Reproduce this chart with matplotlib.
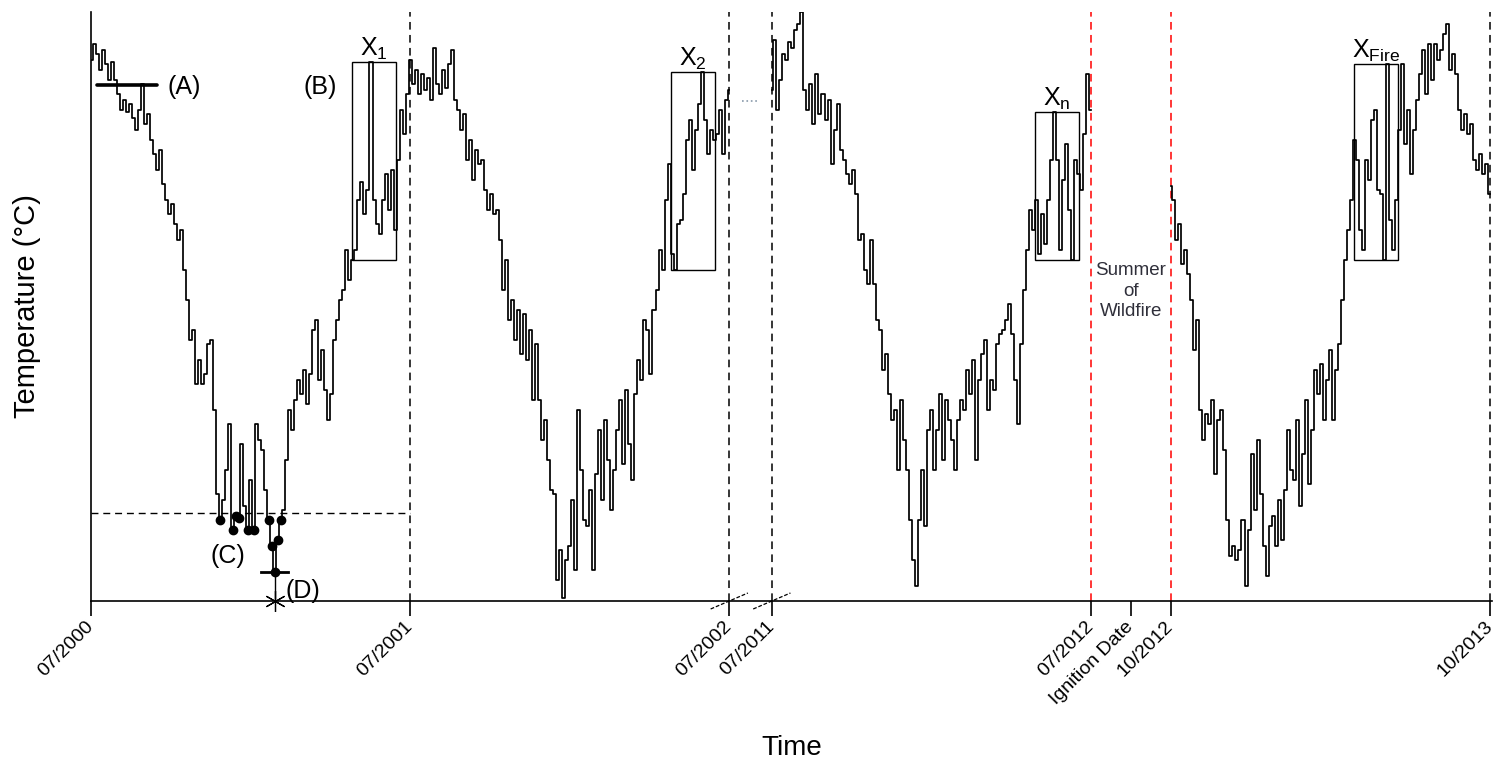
"""
Temperature series schematic with summer windows X1..Xn, XFire.
"""

import numpy as np
import matplotlib.pyplot as plt
from matplotlib.patches import Rectangle

plt.rcParams['font.family'] = ['Liberation Sans', 'DejaVu Sans']
plt.rcParams['mathtext.default'] = 'regular'

# x axis in months since 07/2000, with the 07/2002 - 07/2011 gap cut out
tick_pos = [0, 12, 24, 25.6, 37.6, 39.1, 40.6, 52.6]
tick_labels = ['07/2000', '07/2001', '07/2002', '07/2011', '07/2012',
               'Ignition Date', '10/2012', '10/2013']

# start / end (months) of each plotted year of data
seg_start = [0, 12, 25.6, 40.6]
seg_end = [12, 24, 37.6, 52.6]

temp_2000 = [
    22.0, 22.8, 22.3, 21.5, 22.5, 21.8, 21.0, 21.9, 21.0, 20.3,
    19.5, 20.0, 19.4, 19.8, 19.1, 18.5, 19.5, 20.8, 18.8, 19.3,
    18.0, 17.3, 16.5, 17.5, 15.8, 15.0, 14.3, 14.8, 13.8, 13.0,
    13.5, 11.5, 10.0, 8.0, 8.5, 5.8, 7.0, 5.8, 6.3, 7.8,
    8.0, 4.5, 0.3, -1.0, 0.0, 1.5, 3.8, -1.5, -0.8, -0.9,
    2.8, -0.3, -1.5, 1.0, -1.5, 3.8, 3.0, 2.5, 0.5, -1.0,
    -2.3, -3.6, -2.0, -1.0, -0.5, 2.0, 4.5, 3.5, 5.0, 6.0,
    5.3, 6.5, 4.8, 6.3, 8.5, 9.0, 6.0, 7.5, 5.5, 4.0,
    5.3, 8.0, 9.0, 10.0, 10.5, 12.5, 11.0, 12.0, 12.5, 15.0,
    15.9, 14.3, 15.5, 21.9, 15.0, 13.8, 13.3, 15.0, 16.3, 14.5,
    16.5, 13.5, 17.0, 19.5, 18.3, 20.3, 22.0]

temp_2001 = [
    22.0, 20.8, 21.5, 20.3, 21.3, 20.5, 21.1, 20.0, 22.6, 20.8,
    20.3, 21.5, 20.6, 21.8, 22.5, 20.0, 19.5, 18.5, 19.3, 17.0,
    18.0, 16.0, 17.5, 16.8, 17.0, 15.5, 14.5, 15.3, 14.3, 14.5,
    13.0, 10.5, 12.0, 9.0, 10.0, 8.0, 9.5, 7.3, 9.3, 7.0,
    8.5, 5.0, 7.8, 5.0, 3.0, 4.0, 2.0, 0.5, 0.3, -4.0,
    -2.5, -4.9, -3.0, -2.3, 0.0, -3.5, 4.5, 1.5, -1.0, -1.3,
    0.5, -3.5, 1.3, 3.5, 0.0, 4.0, 2.0, -0.5, 1.5, 3.5,
    5.0, 1.8, 5.5, 2.8, 1.0, 5.3, 7.0, 6.0, 9.0, 8.5,
    6.3, 9.5, 10.5, 12.5, 11.5, 15.0, 16.8, 12.3, 11.5, 13.8,
    14.0, 15.3, 18.0, 19.0, 16.5, 18.5, 19.8, 21.4, 19.0, 17.3,
    18.5, 18.0, 18.3, 19.5, 17.3, 20.0, 20.5]

temp_2011 = [
    20.5, 23.0, 19.5, 21.0, 22.3, 22.0, 22.9, 22.6, 23.5, 23.8,
    24.4, 20.5, 19.5, 20.8, 18.8, 21.3, 19.3, 20.3, 19.0, 20.0,
    16.8, 18.5, 19.8, 17.5, 17.0, 16.3, 15.8, 16.5, 15.3, 13.0,
    13.3, 11.5, 10.8, 13.0, 10.8, 9.0, 8.5, 6.5, 7.3, 5.3,
    4.0, 4.5, 1.5, 5.0, 3.0, 1.5, -1.0, -3.0, -4.3, -1.0,
    1.5, -1.3, 3.5, 4.5, 1.5, 3.5, 5.3, 2.0, 5.0, 4.0,
    3.0, 1.5, 4.0, 5.0, 4.5, 6.5, 5.3, 7.0, 2.0, 6.0,
    7.3, 8.0, 4.5, 6.0, 5.5, 7.8, 8.3, 8.5, 9.0, 9.8,
    8.3, 6.0, 3.8, 7.8, 10.5, 12.5, 14.5, 13.5, 15.0, 12.3,
    14.3, 12.8, 15.0, 17.0, 19.4, 17.0, 12.5, 16.0, 17.8, 14.5,
    12.0, 17.0, 16.3, 15.5, 18.3, 21.3, 19.5]

temp_2012 = [
    15.7, 15.0, 13.0, 13.8, 11.8, 12.5, 11.3, 10.0, 7.5, 9.0,
    4.5, 3.0, 4.3, 3.8, 5.0, 1.3, 4.0, 4.5, 2.5, -1.0,
    -2.8, -2.3, -3.0, -2.5, -1.0, -4.3, -1.5, 2.3, -0.5, 3.0,
    0.3, -2.3, -3.8, -1.3, -0.8, -2.3, 0.0, -2.0, 0.5, 3.5,
    1.5, 1.0, 4.0, -0.3, 2.3, 5.0, 0.8, 3.5, 6.5, 5.3,
    6.8, 4.0, 6.0, 7.5, 4.0, 6.5, 7.8, 10.0, 12.0, 13.5,
    15.0, 18.0, 17.0, 13.5, 12.5, 17.0, 16.0, 19.0, 19.5, 15.5,
    15.3, 12.0, 21.8, 14.0, 12.5, 15.0, 18.5, 21.8, 17.8, 19.5,
    16.3, 18.5, 20.0, 21.3, 22.5, 20.3, 22.8, 21.0, 22.8, 22.0,
    22.5, 23.3, 23.8, 21.5, 22.3, 21.3, 19.5, 18.5, 19.3, 18.3,
    18.8, 17.0, 16.5, 17.3, 16.3, 16.8, 15.3]

series = [temp_2000, temp_2001, temp_2011, temp_2012]

# low threshold (C) and summer windows X
threshold = -0.65
box_start = [9.81, 21.81, 35.50, 47.49]
box_width = 1.65
box_labels = ['$X_1$', '$X_2$', '$X_n$', '$X_{Fire}$']

black_dashed = [12, 24, 25.6, 52.6]
red_dashed = [37.6, 40.6]
ymin, ymax = -5.05, 24.4
dash = (0, (5, 3.5))

fig = plt.figure(figsize=(14.95, 7.63), dpi=100)
ax = fig.add_axes([91 / 1495, 1 - 601 / 763, 1401 / 1495, 589 / 763])

all_x, all_y = [], []
for s, e, temps in zip(seg_start, seg_end, series):
    x = np.linspace(s, e, len(temps))
    y = np.array(temps)
    ax.plot(x, y, color='black', lw=1.25, drawstyle='steps-mid', zorder=3)
    all_x.append(x)
    all_y.append(y)
all_x = np.concatenate(all_x)
all_y = np.concatenate(all_y)

# first winter: points under threshold and the minimum (D)
x0 = np.linspace(seg_start[0], seg_end[0], len(temp_2000))
y0 = np.array(temp_2000)
low = y0 < threshold
ax.plot(x0[low], y0[low], 'o', color='black', ms=6, zorder=4)
ax.plot([seg_start[0], seg_end[0]], [threshold, threshold], color='black',
        lw=1.0, ls=dash)
imin = np.argmin(y0)
ax.plot([x0[imin] - 0.5, x0[imin] + 0.5], [y0[imin], y0[imin]], color='black', lw=2)
ax.plot([x0[imin], x0[imin]], [ymin, y0[imin]], color='black', lw=1)
ax.plot(x0[imin], ymin, marker=(6, 2, 0), ms=15, mew=0.9, color='black',
        clip_on=False, zorder=5)

# (A) starting level
ax.plot([0.23, 2.48], [20.75, 20.75], color='black', lw=2.6, solid_capstyle='round')

for xs, lab in zip(box_start, box_labels):
    m = (all_x >= xs) & (all_x <= xs + box_width)
    lo, hi = all_y[m].min(), all_y[m].max()
    ax.add_patch(Rectangle((xs, lo), box_width, hi - lo, fill=False,
                           edgecolor='black', lw=1.0, zorder=2))
    ax.text(xs + box_width / 2, hi, lab, ha='center', va='bottom', fontsize=18)

for xv in black_dashed:
    ax.axvline(xv, color='black', lw=1.1, ls=dash)
for xv in red_dashed:
    ax.axvline(xv, color='red', lw=1.1, ls=dash)

# data continues between the two parts
ax.plot([24.48, 25.08], [19.95, 19.95], color='#8899aa', lw=1.2, ls=':')

# axis break marks
for bx in [24, 25.6]:
    ax.plot([bx - 0.7, bx + 0.7], [ymin - 0.4, ymin + 0.4], color='black',
            lw=0.9, ls=(0, (3, 1.5)), clip_on=False)

ax.text(3.5, 20.65, '(A)', fontsize=18, ha='center', va='center')
ax.text(8.61, 20.65, '(B)', fontsize=18, ha='center', va='center')
ax.text(5.15, -2.8, '(C)', fontsize=18, ha='center', va='center')
ax.text(7.97, -4.55, '(D)', fontsize=18, ha='center', va='center')
ax.text(39.1, 10.45, 'Summer\nof\nWildfire', fontsize=13.5, ha='center',
        va='center', color='#2f2f3a', linespacing=1.3)

ax.set_xlim(0, 52.68)
ax.set_ylim(ymin, ymax)
ax.set_yticks([])
ax.set_xticks(tick_pos)
ax.set_xticklabels(tick_labels, rotation=45, ha='right', va='center',
                   rotation_mode='anchor', fontsize=14)
ax.tick_params(axis='x', direction='out', length=10.5, width=1.2, pad=6)
for side in ['top', 'right']:
    ax.spines[side].set_visible(False)
for side in ['left', 'bottom']:
    ax.spines[side].set_linewidth(1.2)

fig.text(792 / 1495, 1 - 748 / 763, 'Time', fontsize=20, ha='center', va='center')
fig.text(27 / 1495, 1 - 306 / 763, 'Temperature (°C)', fontsize=21, rotation=90,
         ha='center', va='center')

plt.savefig('out.png', dpi=100)
